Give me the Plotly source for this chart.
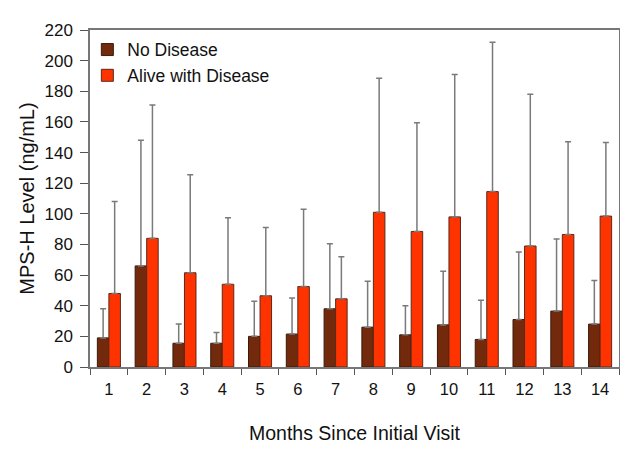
import plotly.graph_objects as go

months = [str(i) for i in range(1, 15)]
no_disease = [19, 66, 15.5, 15.5, 20, 21.5, 38, 26, 21, 27.5, 18, 31, 36.5, 28]
no_disease_err_top = [38, 148, 28, 22.5, 43, 45, 80.5, 56, 40, 62.5, 43.5, 75, 83.5, 56.5]
alive = [48, 84, 61.5, 54, 46.5, 52.5, 44.5, 101, 88.5, 98, 114.5, 79, 86.5, 98.5]
alive_err_top = [108, 171, 125.5, 97.5, 91, 103, 72, 188.5, 159.5, 191, 212, 178, 147, 146.5]

err_nd = [t - v for t, v in zip(no_disease_err_top, no_disease)]
err_al = [t - v for t, v in zip(alive_err_top, alive)]

font = "Liberation Sans, Arial, sans-serif"

fig = go.Figure()
fig.add_trace(go.Bar(
    x=months, y=no_disease, name="No Disease",
    marker=dict(color="#73290C", line=dict(color="#3a1a0a", width=1)),
    error_y=dict(type="data", array=err_nd, arrayminus=[0]*14, symmetric=False,
                 color="#7a7a7a", thickness=1.5, width=3),
))
fig.add_trace(go.Bar(
    x=months, y=alive, name="Alive with Disease",
    marker=dict(color="#FF3300", line=dict(color="#5a2a1a", width=1)),
    error_y=dict(type="data", array=err_al, arrayminus=[0]*14, symmetric=False,
                 color="#7a7a7a", thickness=1.5, width=3),
))

fig.update_layout(
    width=620, height=449,
    margin=dict(l=82, r=9, t=22, b=90),
    paper_bgcolor="white", plot_bgcolor="white",
    barmode="group", bargap=0.39, bargroupgap=0,
    font=dict(family=font, size=17, color="#111111"),
    showlegend=True,
    legend=dict(x=-0.005, y=0.995, xanchor="left", yanchor="top",
                bgcolor="rgba(0,0,0,0)", font=dict(size=17.5),
                itemwidth=30, tracegroupgap=2),
    xaxis=dict(
        type="category", tickson="boundaries", ticks="outside", ticklen=6,
        tickcolor="#555555", showline=True, linecolor="#777777", linewidth=1.5,
        mirror=True, showgrid=False, automargin=False, ticklabelstandoff=6,
        title=dict(text="Months Since Initial Visit", font=dict(size=19.5), standoff=30),
        tickfont=dict(size=16.5),
    ),
    yaxis=dict(
        range=[0, 220], dtick=20, ticks="outside", ticklen=8,
        tickcolor="#555555", showline=True, linecolor="#777777", linewidth=1.5,
        mirror=True, showgrid=False, zeroline=False, automargin=False,
        ticklabelstandoff=4,
        title=dict(text="MPS-H Level (ng/mL)", font=dict(size=20), standoff=4),
        tickfont=dict(size=17),
    ),
)

fig.write_html("out.html")
